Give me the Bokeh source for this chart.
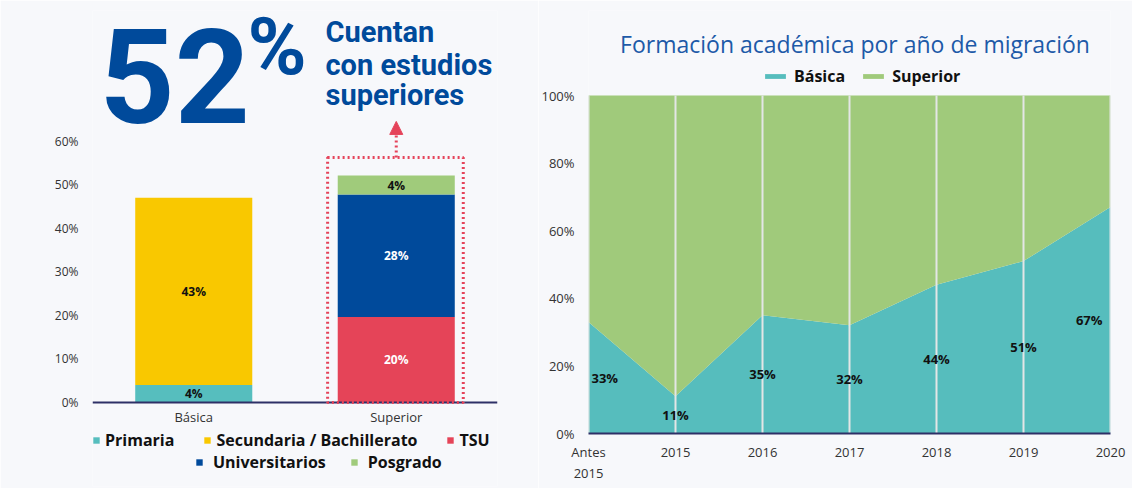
from bokeh.plotting import figure
from bokeh.models import (ColumnDataSource, FactorRange, Range1d, FixedTicker, Label, Legend,
                          LegendItem, BoxAnnotation, Arrow, NormalHead, PrintfTickFormatter, Span)
from bokeh.layouts import row
from bokeh.embed import file_html
from bokeh.resources import INLINE
from bokeh.core.properties import value

# ---------------- data ----------------
levels = ["Básica", "Superior"]
series_names = ["Primaria", "Secundaria / Bachillerato", "TSU", "Universitarios", "Posgrado"]
primaria = [4, 0]
secundaria = [43, 0]
tsu = [0, 19.6]
universitarios = [0, 28.1]
posgrado = [0, 4.4]

years = ["Antes\n2015", "2015", "2016", "2017", "2018", "2019", "2020"]
basica = [33, 11, 35, 32, 44, 51, 67]
superior = [67, 89, 65, 68, 56, 49, 33]

# ---------------- style ----------------
BG = "#f7f8fb"
FONT = "Open Sans"
BLUE = "#004a9b"
RED = "#e5435a"
AXIS = "#2e3067"
TICK = "#333333"
left_colors = ["#56bebe", "#f9c800", "#e54458", "#004a9b", "#a0cb7b"]
left_label_colors = ["#111111", "#111111", "#ffffff", "#ffffff", "#111111"]
right_colors = ["#56bdbd", "#a0ca7b"]

H = 488
TOP = 10
# left panel geometry (px); the frame runs to the bottom so the legend rows stay visible
L_LEFT, L_FRAME_W, L_RIGHT, L_BOTTOM = 92, 405, 41, 2
L_FRAME_H = H - TOP - L_BOTTOM
L_ZERO = 402                       # page y of the 0 % baseline
L_PX = 4.358                       # px per percentage point
L_YMIN = -(TOP + L_FRAME_H - L_ZERO) / L_PX
L_YMAX = (L_ZERO - TOP) / L_PX
# right panel geometry (px)
R_LEFT, R_FRAME_W, R_RIGHT, R_BOTTOM = 49, 522, 23, 55
R_FRAME_H = H - TOP - R_BOTTOM
R_PX = 3.38
R_YTOP = R_FRAME_H / R_PX

# ---------------- left chart ----------------
keys = ["primaria", "secundaria", "tsu", "universitarios", "posgrado"]
cols = dict(primaria=primaria, secundaria=secundaria, tsu=tsu,
            universitarios=universitarios, posgrado=posgrado)
src1 = ColumnDataSource(dict(x=levels, **cols))

p1 = figure(x_range=FactorRange(*levels), y_range=Range1d(L_YMIN, L_YMAX),
            frame_width=L_FRAME_W, frame_height=L_FRAME_H,
            output_backend="svg", toolbar_location=None,
            min_border_left=L_LEFT, min_border_right=L_RIGHT,
            min_border_top=TOP, min_border_bottom=L_BOTTOM)
p1.background_fill_color = BG
p1.border_fill_color = BG
p1.outline_line_color = None
p1.xgrid.visible = False
p1.ygrid.visible = False
p1.xaxis.visible = False

bar_w = 0.578
rs1 = p1.vbar_stack(keys, x="x", width=bar_w, color=left_colors, line_width=0, source=src1)

lx, ly, lt, lc = [], [], [], []
for i, cat in enumerate(levels):
    bottom = 0
    for k, key in enumerate(keys):
        v = cols[key][i]
        if v > 0:
            lx.append(cat)
            ly.append(bottom + v / 2)
            lt.append(f"{round(v)}%")
            lc.append(left_label_colors[k])
        bottom += v
p1.text(x="x", y="y", text="t", text_color="c",
        source=ColumnDataSource(dict(x=lx, y=ly, t=lt, c=lc)),
        text_align="center", text_baseline="middle", text_font=value(FONT),
        text_font_style="bold", text_font_size="12px")

# category axis: baseline + category names
p1.add_layout(Span(location=0, dimension="width", line_color=AXIS, line_width=2))
p1.text(x=levels, y=[-14 / L_PX] * len(levels), text=levels, text_align="center",
        text_baseline="middle", text_font=value(FONT), text_font_size="13px", text_color=TICK)

ya1 = p1.yaxis[0]
ya1.ticker = FixedTicker(ticks=[0, 10, 20, 30, 40, 50, 60])
ya1.formatter = PrintfTickFormatter(format="%d%%")
ya1.axis_line_color = None
ya1.major_tick_line_color = None
ya1.minor_tick_line_color = None
ya1.major_tick_out = 0
ya1.major_label_standoff = 14
ya1.major_label_text_font_size = "12px"
ya1.major_label_text_font = FONT
ya1.major_label_text_color = TICK


def lx_(px):
    return (px - L_LEFT) / (L_FRAME_W / len(levels))


def ly_(py):
    return (L_ZERO - py) / L_PX


# highlight box + arrow around "Superior"
sup_idx = levels.index("Superior") + 0.5
sup_total = sum(c[1] for c in cols.values())
box_top = sup_total + 4.1
p1.add_layout(BoxAnnotation(left=sup_idx - bar_w / 2 - 0.05, right=sup_idx + bar_w / 2 + 0.042,
                            bottom=0, top=box_top, fill_alpha=0, line_color=RED, line_alpha=1,
                            line_dash="2 3", line_width=3))
p1.add_layout(Arrow(end=NormalHead(size=13, fill_color=RED, line_color=RED, line_width=1),
                    x_start=sup_idx, y_start=box_top, x_end=sup_idx, y_end=box_top + 8.3,
                    line_color=RED, line_dash="2 3", line_width=3))

# big headline
p1.add_layout(Label(x=lx_(99), y=ly_(75), text=f"{round(sup_total)}", text_font="Roboto",
                    text_font_style="bold", text_font_size="131px", text_color=BLUE,
                    text_baseline="middle", text_align="left"))
p1.add_layout(Label(x=lx_(247), y=ly_(46.5), text="%", text_font="Roboto",
                    text_font_style="bold", text_font_size="80px", text_color=BLUE,
                    text_baseline="middle", text_align="left"))
for txt, py in (("Cuentan", 31), ("con estudios", 64.5), ("superiores", 94)):
    p1.add_layout(Label(x=lx_(325), y=ly_(py), text=txt, text_font="Roboto",
                        text_font_style="bold", text_font_size="29px", text_color=BLUE,
                        text_baseline="middle", text_align="left"))

# legend (two rows under the bars)
items = [LegendItem(label=n, renderers=[r]) for n, r in zip(series_names, rs1)]
leg_common = dict(orientation="horizontal", glyph_width=8, glyph_height=8, padding=0, margin=0,
                  background_fill_alpha=0, border_line_alpha=0,
                  label_text_font=FONT, label_text_font_style="bold",
                  label_text_font_size="16px", label_text_color="#111111")
frame_bottom = TOP + L_FRAME_H
p1.add_layout(Legend(items=items[:3], location=(0, frame_bottom - 451), spacing=29,
                     label_standoff=5, **leg_common), "center")
p1.add_layout(Legend(items=items[3:], location=(103, frame_bottom - 472.5), spacing=24,
                     label_standoff=10, **leg_common), "center")

# ---------------- right chart ----------------
xs = list(range(len(years)))
src2 = ColumnDataSource(dict(x=xs, basica=basica, superior=superior))
p2 = figure(x_range=Range1d(0, len(years) - 1), y_range=Range1d(0, R_YTOP),
            frame_width=R_FRAME_W, frame_height=R_FRAME_H,
            output_backend="svg", toolbar_location=None,
            min_border_left=R_LEFT, min_border_right=R_RIGHT,
            min_border_top=TOP, min_border_bottom=R_BOTTOM)
p2.background_fill_color = BG
p2.border_fill_color = BG
p2.outline_line_color = None
p2.xgrid.visible = False
p2.ygrid.visible = False
rs2 = p2.varea_stack(["basica", "superior"], x="x", color=right_colors, source=src2)
p2.segment(x0="x", y0=0, x1="x", y1=100, source=src2, line_color="#e3e6e6", line_width=2)

aligns = ["left"] + ["center"] * (len(years) - 2) + ["right"]
offs = [3] + [0] * (len(years) - 2) + [-8]
p2.text(x="x", y="y", text="t", text_align="a", x_offset="o",
        source=ColumnDataSource(dict(x=xs, y=[v / 2 for v in basica], t=[f"{v}%" for v in basica],
                                     a=aligns, o=offs)),
        text_baseline="middle", text_font=value(FONT), text_font_style="bold",
        text_font_size="13px", text_color="#111111")

xa2 = p2.xaxis[0]
xa2.ticker = FixedTicker(ticks=xs)
xa2.major_label_overrides = {i: y for i, y in enumerate(years)}
xa2.axis_line_color = AXIS
xa2.axis_line_width = 2
xa2.major_tick_line_color = None
xa2.minor_tick_line_color = None
xa2.major_tick_out = 0
xa2.major_label_standoff = 9
ya2 = p2.yaxis[0]
ya2.ticker = FixedTicker(ticks=[0, 20, 40, 60, 80, 100])
ya2.formatter = PrintfTickFormatter(format="%d%%")
ya2.axis_line_color = None
ya2.major_tick_line_color = None
ya2.minor_tick_line_color = None
ya2.major_tick_out = 0
ya2.major_label_standoff = 14
for a in (xa2, ya2):
    a.major_label_text_font = FONT
    a.major_label_text_font_size = "13px"
    a.major_label_text_color = TICK

L_W = L_LEFT + L_FRAME_W + L_RIGHT
p2.add_layout(Label(x=(853.5 - L_W - R_LEFT) / (R_FRAME_W / (len(years) - 1)),
                    y=(TOP + R_FRAME_H - 43) / R_PX,
                    text="Formación académica por año de migración",
                    text_font=FONT, text_font_size="23px", text_color="#1d5aa8",
                    text_align="center", text_baseline="middle"))
p2.add_layout(Legend(items=[LegendItem(label="Básica", renderers=[rs2[0]]),
                            LegendItem(label="Superior", renderers=[rs2[1]])],
                     location=(174, 346), orientation="horizontal", glyph_width=26,
                     glyph_height=6, spacing=15, label_standoff=6, padding=0, margin=0,
                     background_fill_alpha=0, border_line_alpha=0, label_text_font=FONT,
                     label_text_font_style="bold", label_text_font_size="16px",
                     label_text_color="#111111"), "center")

layout = row(p1, p2)
open("out.html", "w").write(file_html(layout, INLINE))
